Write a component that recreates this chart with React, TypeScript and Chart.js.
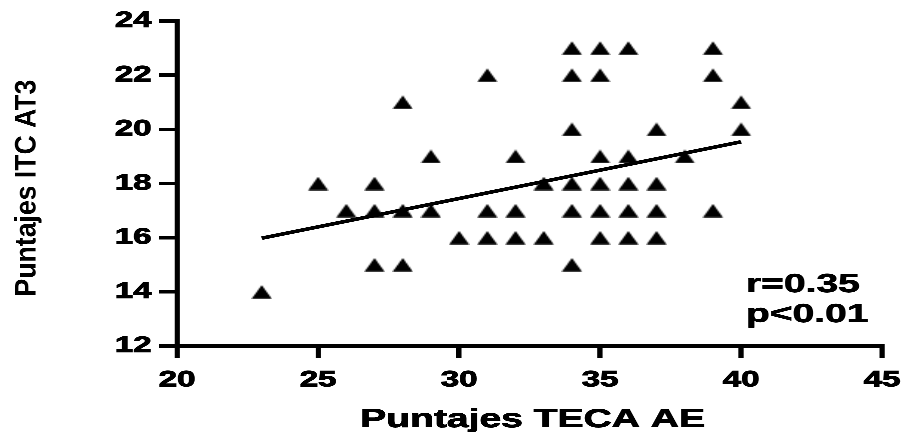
import React, { useEffect, useRef } from "react";
import { Chart, registerables } from "chart.js";

Chart.register(...registerables);

// ---- data ----
const tecaAE = [23, 25, 26, 27, 27, 27, 28, 28, 28, 29, 29, 30, 31, 31, 31, 32, 32, 32, 33, 33,
  34, 34, 34, 34, 34, 34, 35, 35, 35, 35, 35, 35, 36, 36, 36, 36, 36, 37, 37, 37, 37, 38, 39, 39, 39, 40, 40];
const itcAT3 = [14, 18, 17, 18, 17, 15, 21, 17, 15, 19, 17, 16, 22, 17, 16, 19, 17, 16, 18, 16,
  23, 22, 20, 18, 17, 15, 23, 22, 19, 18, 17, 16, 23, 19, 18, 17, 16, 20, 18, 17, 16, 19, 23, 22, 17, 21, 20];

const trendX = [23, 40];
const trendY = [15.98, 19.54];

const xTicks = [20, 25, 30, 35, 40, 45];
const yTicks = [12, 14, 16, 18, 20, 22, 24];

const xTitle = "Puntajes TECA AE";
const yTitle = "Puntajes ITC AT3";
const statLines = ["r=0.35", "p<0.01"];
const statX = 40.17;
const statY = [14.0, 12.89];

// ---- rendering setup ----
const DISPLAY_W = 914;
const H = 432;
const W = 609; // internal width, stretched to 914 on screen
const FONT = "'Liberation Sans', Arial, sans-serif";

function makeTriangle(): HTMLCanvasElement {
  const c = document.createElement("canvas");
  c.width = 14;
  c.height = 14;
  const g = c.getContext("2d")!;
  g.fillStyle = "#000";
  g.beginPath();
  g.moveTo(7, 0.3);
  g.lineTo(13.67, 13.7);
  g.lineTo(0.33, 13.7);
  g.closePath();
  g.fill();
  return c;
}

const textPlugin = {
  id: "textPlugin",
  afterDraw(chart: any) {
    const ctx = chart.ctx;
    const xs = chart.scales.x;
    const ys = chart.scales.y;
    ctx.save();
    ctx.fillStyle = "#000";
    ctx.strokeStyle = "#000";
    ctx.lineWidth = 0.6;
    ctx.lineJoin = "round";
    ctx.font = `bold 26px ${FONT}`;
    ctx.textAlign = "left";
    ctx.textBaseline = "alphabetic";
    statLines.forEach((t, i) => {
      const px = xs.getPixelForValue(statX);
      const py = ys.getPixelForValue(statY[i]);
      ctx.fillText(t, px, py);
      ctx.strokeText(t, px, py);
    });
    ctx.restore();

    // x axis title
    ctx.save();
    ctx.fillStyle = "#000";
    ctx.strokeStyle = "#000";
    ctx.lineWidth = 0.7;
    ctx.lineJoin = "round";
    ctx.font = `bold 26px ${FONT}`;
    ctx.textAlign = "center";
    ctx.textBaseline = "alphabetic";
    const cx = (xs.left + xs.right) / 2 + 2;
    ctx.fillText(xTitle, cx, 427);
    ctx.strokeText(xTitle, cx, 427);
    ctx.restore();

    // y axis title (rotated)
    ctx.save();
    ctx.fillStyle = "#000";
    ctx.translate(23.5, 188);
    ctx.rotate(-Math.PI / 2);
    ctx.scale(1.33, 1);
    ctx.font = `bold 20px ${FONT}`;
    ctx.textAlign = "center";
    ctx.textBaseline = "alphabetic";
    ctx.fillText(yTitle, 0, 0);
    ctx.restore();
  },
};

export default function App() {
  const ref = useRef<HTMLCanvasElement | null>(null);

  useEffect(() => {
    document.body.style.margin = "0";
    const canvas = ref.current;
    if (!canvas) return;
    const tri = makeTriangle();

    const points = tecaAE.map((x, i) => ({ x, y: itcAT3[i] }));
    const trend = trendX.map((x, i) => ({ x, y: trendY[i] }));

    const tickFont = { family: FONT, size: 22, weight: "bold" as const };

    const chart = new Chart(canvas, {
      type: "scatter",
      data: {
        datasets: [
          {
            label: "trend",
            data: trend,
            showLine: true,
            borderColor: "#000",
            borderWidth: 3.5,
            pointRadius: 0,
            fill: false,
          },
          {
            label: "data",
            data: points,
            pointStyle: tri as any,
            backgroundColor: "#000",
            borderWidth: 0,
            pointRadius: 7,
          },
        ],
      },
      plugins: [textPlugin],
      options: {
        responsive: false,
        animation: false,
        devicePixelRatio: 3,
        layout: { padding: { left: 0, right: 15, top: 21, bottom: 0 } },
        plugins: {
          legend: { display: false },
          tooltip: { enabled: false },
        },
        scales: {
          x: {
            type: "linear",
            min: 20,
            max: 45,
            afterBuildTicks: (s: any) => {
              s.ticks = xTicks.map((v) => ({ value: v }));
            },
            afterFit: (s: any) => {
              s.height = 86;
            },
            grid: {
              display: true,
              drawOnChartArea: false,
              drawTicks: true,
              tickLength: 12,
              color: "#000",
              lineWidth: 3.5,
            },
            border: { display: true, color: "#000", width: 3.5 },
            ticks: {
              color: "#000",
              font: tickFont,
              padding: 9,
              maxRotation: 0,
              autoSkip: false,
              textStrokeColor: "#000",
              textStrokeWidth: 0.8,
            },
            title: { display: false },
          },
          y: {
            type: "linear",
            min: 12,
            max: 24,
            afterBuildTicks: (s: any) => {
              s.ticks = yTicks.map((v) => ({ value: v }));
            },
            afterFit: (s: any) => {
              s.width = 118;
            },
            grid: {
              display: true,
              drawOnChartArea: false,
              drawTicks: true,
              tickLength: 12,
              color: "#000",
              lineWidth: 3.5,
            },
            border: { display: true, color: "#000", width: 3.5 },
            ticks: {
              color: "#000",
              font: tickFont,
              padding: 5,
              autoSkip: false,
              textStrokeColor: "#000",
              textStrokeWidth: 0.8,
            },
          },
        },
      },
    } as any);

    return () => chart.destroy();
  }, []);

  return (
    <div style={{ width: DISPLAY_W, height: H, overflow: "hidden", background: "#fff" }}>
      <canvas
        ref={ref}
        width={W}
        height={H}
        style={{ width: `${DISPLAY_W}px`, height: `${H}px`, display: "block" }}
      />
    </div>
  );
}
